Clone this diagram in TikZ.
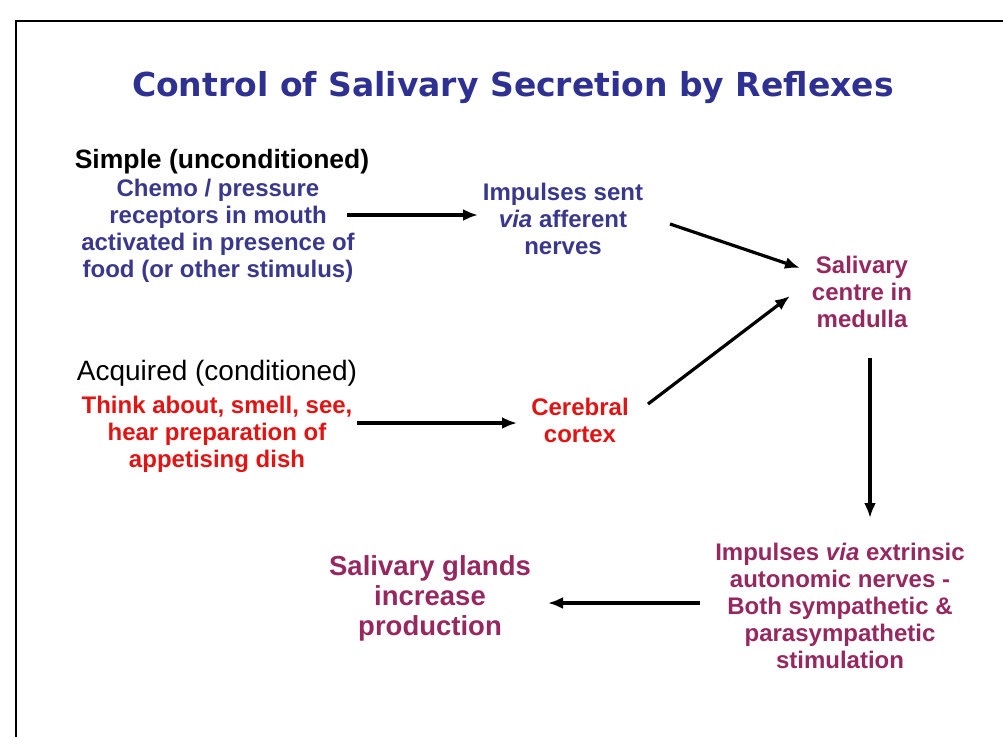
\documentclass[tikz,border=0pt]{standalone}
\usepackage{fontspec}
\setmainfont{Liberation Sans}
\newfontfamily\titlefont{DejaVu Sans}
\usetikzlibrary{arrows.meta}
\definecolor{titleblue}{RGB}{46,48,146}
\definecolor{simpleblue}{RGB}{58,56,140}
\definecolor{plum}{RGB}{150,40,95}
\definecolor{condred}{RGB}{225,20,20}
\newcommand{\bodysize}{\fontsize{24}{27}\selectfont}

\begin{document}
\begin{tikzpicture}[x=1pt, y=-1pt, ->, >={Latex[length=15pt,width=12pt]}, line width=3.2pt,
  txt/.style={align=center, inner sep=0pt, font=\bodysize\bfseries},
  head/.style={inner sep=0pt, font=\fontsize{28}{30}\selectfont}]
%
\useasboundingbox (0,0) rectangle (1003,737);
\draw[-, line width=2pt] (16,737) -- (16,21) -- (1003,21);
%
\node (T) [inner sep=0pt, text=titleblue, font=\titlefont\fontsize{33}{38}\selectfont\bfseries] at (513,88) {Control of Salivary Secretion by Reflexes};
%
\node (S) [head, font=\fontsize{26.5}{30}\selectfont\bfseries] at (222,162) {Simple (unconditioned)};
\node (S1) [txt, text=simpleblue] at (218,231) {Chemo / pressure\\receptors in mouth\\activated in presence of\\food (or other stimulus)};
\node (S2) [txt, text=simpleblue] at (563,219) {Impulses sent\\\textit{via} afferent\\nerves};
\node (M) [txt, text=plum] at (862,292) {Salivary\\centre in\\medulla};
%
\node (A) [head] at (217,373) {Acquired (conditioned)};
\node (A1) [txt, text=condred] at (217,434) {Think about, smell, see,\\hear preparation of\\appetising dish};
\node (A2) [txt, text=condred] at (580,420) {Cerebral\\cortex};
%
\node (E) [txt, text=plum] at (840,606) {Impulses \textit{via} extrinsic\\autonomic nerves -\\Both sympathetic \&\\parasympathetic\\stimulation};
\node (G) [txt, text=plum, font=\fontsize{27.5}{30}\selectfont\bfseries] at (430,598) {Salivary glands\\increase\\production};
%
\coordinate (p1) at (347,215); \coordinate (p2) at (478,215);
\coordinate (p3) at (670,224); \coordinate (p4) at (800,268);
\coordinate (p5) at (648,404); \coordinate (p6) at (790,296);
\coordinate (p7) at (357,423); \coordinate (p8) at (517,423);
\coordinate (p9) at (870,358); \coordinate (p10) at (870,518);
\coordinate (p11) at (700,603); \coordinate (p12) at (548,603);
%
\path (p1) edge (p2);
\path (p3) edge (p4);
\path (p5) edge (p6);
\path (p7) edge (p8);
\path (p9) edge (p10);
\path (p11) edge (p12);
\end{tikzpicture}
\end{document}
